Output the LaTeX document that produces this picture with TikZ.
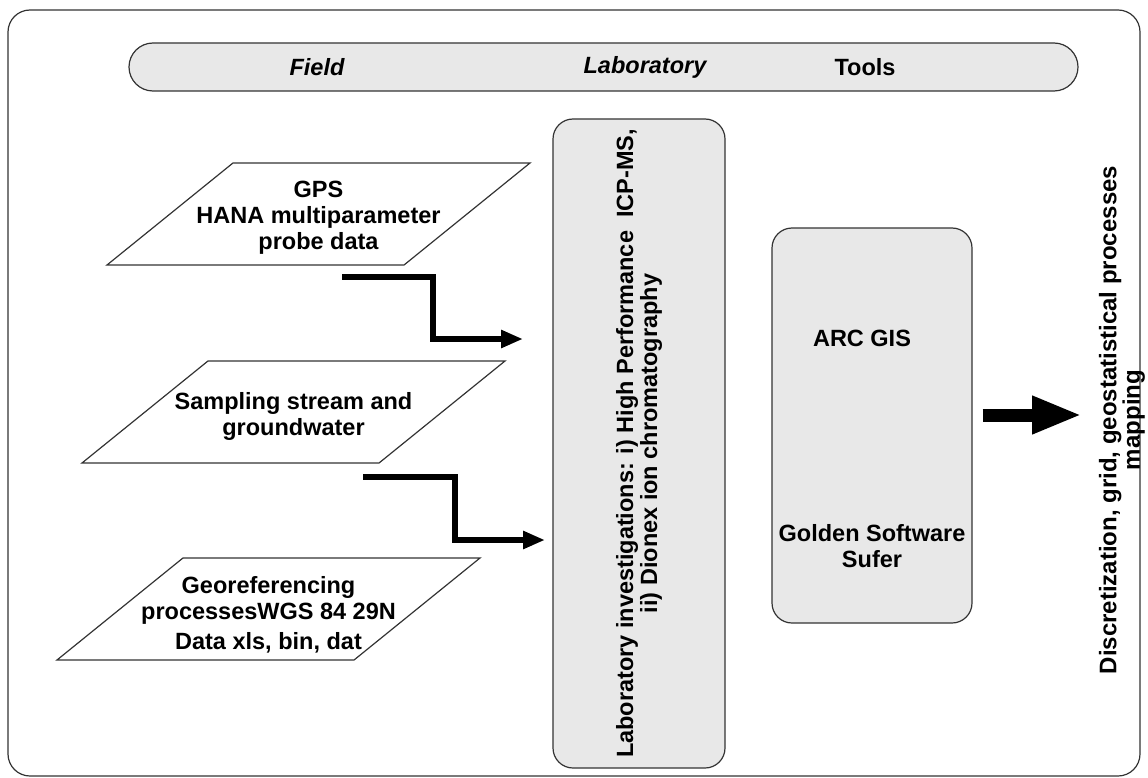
\documentclass[tikz,border=0pt]{standalone}
\usepackage{fontspec}
\setmainfont{Liberation Sans}
\usetikzlibrary{arrows.meta,positioning,shapes.geometric}
\definecolor{boxgray}{HTML}{E8E8E8}
\definecolor{linegray}{HTML}{333333}

\begin{document}
\begin{tikzpicture}[x=1pt,y=-1pt,font=\bfseries\fontsize{23.5}{26}\selectfont,line width=1.2pt]
  \tikzstyle{data}=[trapezium,trapezium left angle=39,trapezium right angle=141,trapezium stretches body=true,draw=linegray,minimum width=423pt,inner xsep=0pt,inner ysep=51pt]
  \tikzstyle{box}=[draw=linegray,fill=boxgray,rounded corners=20pt,inner sep=0pt,align=center]
  \tikzstyle{elbow}=[line width=6pt,-{Triangle[length=22pt,width=17pt]}]
  \tikzstyle{fat}=[line width=13pt,-{Triangle[length=50pt,width=35pt]}]

  \useasboundingbox (0,0) rectangle (1148,778);
  \draw[linegray,rounded corners=22pt] (8,10) rectangle (1140,776);

  \node[box,rounded corners=24pt,minimum width=949pt,minimum height=48pt] (band) at (603.5,67) {};
  \node (field) at (317,67) {\itshape Field};
  \node (lab)   at (645,67) {\itshape Laboratory};
  \node (tools) at (865,67) {Tools};

  \node[data,label={[align=center,yshift=-4pt]center:{GPS\\HANA multiparameter\\probe data}}] (gps) at (318.5,214) {};
  \node[data,label={[align=center,yshift=-4pt]center:{Sampling stream and\\groundwater}}] (sample) at (293.5,412) {};
  \node[data,label={[align=center,yshift=-6pt]center:{Georeferencing\\processesWGS 84 29N\\[4pt]Data xls, bin, dat}}] (geo) at (268.5,609) {};

  \node[box,rotate=90,minimum width=649pt,minimum height=172pt,font=\bfseries\fontsize{23.5}{24}\selectfont] (invest) at (639,443.5)
    {Laboratory investigations: i) High Performance\ \ ICP-MS,\\ii) Dionex ion chromatography};
  \node[box,minimum width=200pt,minimum height=395pt] (soft) at (872,425.5) {};
  \node (arc)    at (862,338) {ARC GIS};
  \node[align=center] (golden) at (872,546) {Golden Software\\Sufer};
  \node[rotate=90,align=center,font=\bfseries\fontsize{24}{20}\selectfont] (result) at (1122,420)
    {Discretization, grid, geostatistical processes\\mapping};

  \coordinate (g1) at (342,277);
  \coordinate (e1) at (523,339);
  \coordinate (g2) at (363,477);
  \coordinate (e2) at (545,540);
  \coordinate (tip) at (1082,415);

  \draw[elbow] (g1) -- ++(91,0) |- (e1);
  \draw[elbow] (g2) -- ++(92,0) |- (e2);
  \draw[fat] ([shift={(10,-10.5)}]soft.east) -- (tip);
\end{tikzpicture}
\end{document}
